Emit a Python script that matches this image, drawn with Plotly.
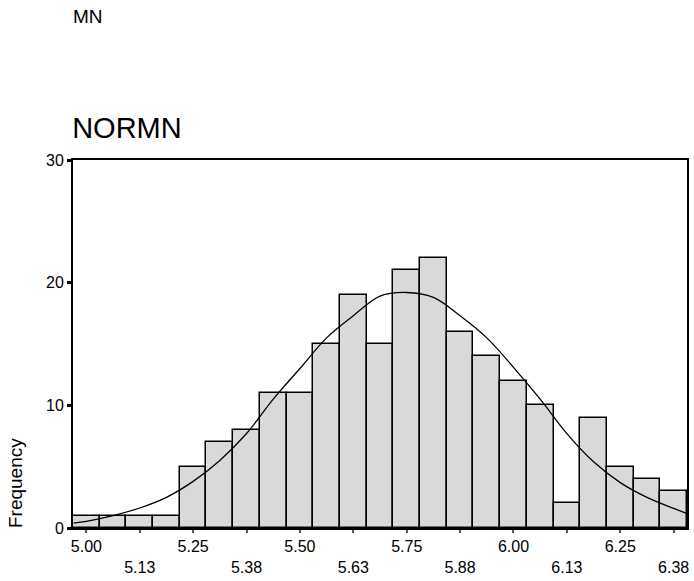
#!/usr/bin/env python3
"""Histogram of NORMN with fitted normal curve (SPSS-style)."""
import plotly.graph_objects as go

BIN_WIDTH = 0.0625

BIN_CENTERS = [5.0, 5.0625, 5.125, 5.1875, 5.25, 5.3125, 5.375, 5.4375,
               5.5, 5.5625, 5.625, 5.6875, 5.75, 5.8125, 5.875, 5.9375,
               6.0, 6.0625, 6.125, 6.1875, 6.25, 6.3125, 6.375]
COUNTS = [1, 1, 1, 1, 5, 7, 8, 11, 11, 15, 19, 15, 21, 22, 16, 14,
          12, 10, 2, 9, 5, 4, 3]

# normal curve
CURVE_X = [4.97, 5.0, 5.0625, 5.125, 5.1875, 5.25, 5.3125, 5.375, 5.4375,
           5.5, 5.5625, 5.625, 5.6875, 5.75, 5.8125, 5.875, 5.9375,
           6.0, 6.0625, 6.125, 6.1875, 6.25, 6.3125, 6.375, 6.405]
CURVE_Y = [0.4, 0.54, 1.0, 1.63, 2.5, 3.8, 5.5, 7.7, 10.5, 13.0, 15.5,
           17.3, 18.9, 19.2, 18.8, 17.3, 15.5, 13.1, 10.5, 7.7, 5.4,
           3.7, 2.5, 1.6, 1.2]

TICK_VALUES = BIN_CENTERS[::2]
TICK_LABELS = ["5.00", "5.13", "5.25", "5.38", "5.50", "5.63",
               "5.75", "5.88", "6.00", "6.13", "6.25", "6.38"]
Y_TICKS = [0, 10, 20, 30]

FONT = "Arial, Liberation Sans, sans-serif"

fig = go.Figure()

fig.add_trace(go.Bar(
    x=BIN_CENTERS, y=COUNTS,
    width=BIN_WIDTH,
    marker=dict(color="#d9d9d9", line=dict(color="black", width=1.5)),
    showlegend=False,
))

fig.add_trace(go.Scatter(
    x=CURVE_X, y=CURVE_Y,
    mode="lines",
    line=dict(color="black", width=1.3, shape="spline"),
    showlegend=False,
))

# alternate tick labels on two rows
ticktext = [t if i % 2 == 0 else "<br>" + t for i, t in enumerate(TICK_LABELS)]

fig.update_xaxes(
    range=[BIN_CENTERS[0] - BIN_WIDTH / 2, BIN_CENTERS[-1] + BIN_WIDTH / 2],
    tickvals=TICK_VALUES, ticktext=ticktext,
    ticks="outside", ticklen=3, tickwidth=2, tickcolor="#555",
    showline=True, linecolor="black", linewidth=1.5, mirror=True,
    showgrid=False, zeroline=False,
    tickfont=dict(size=16, color="black"),
)
fig.update_yaxes(
    range=[0, 30],
    tickvals=Y_TICKS,
    ticks="outside", ticklen=4, tickwidth=3, tickcolor="black",
    showline=True, linecolor="black", linewidth=2, mirror=True,
    showgrid=False, zeroline=False,
    tickfont=dict(size=16, color="black"),
)

fig.add_annotation(
    text="MN", xref="paper", yref="paper", x=-0.003, y=1.389,
    xanchor="left", yanchor="middle", showarrow=False,
    font=dict(size=19, color="black"),
)
fig.add_annotation(
    text="Frequency", xref="paper", yref="paper", x=-0.094, y=0.123,
    xanchor="center", yanchor="middle", textangle=-90, showarrow=False,
    font=dict(size=19, color="black"),
)

fig.update_layout(
    title=dict(text="NORMN", x=0.104, xanchor="left", y=0.78, yanchor="middle",
               font=dict(size=29, color="black")),
    width=694, height=581,
    margin=dict(l=73, r=5, t=160, b=52),
    paper_bgcolor="white", plot_bgcolor="white",
    font=dict(family=FONT, color="black"),
    bargap=0,
)

# drop the browser's default page margin so the figure sits at the window corner
fig.write_html("out.html", config={"displayModeBar": False},
               post_script="document.body.style.margin = '0';")
